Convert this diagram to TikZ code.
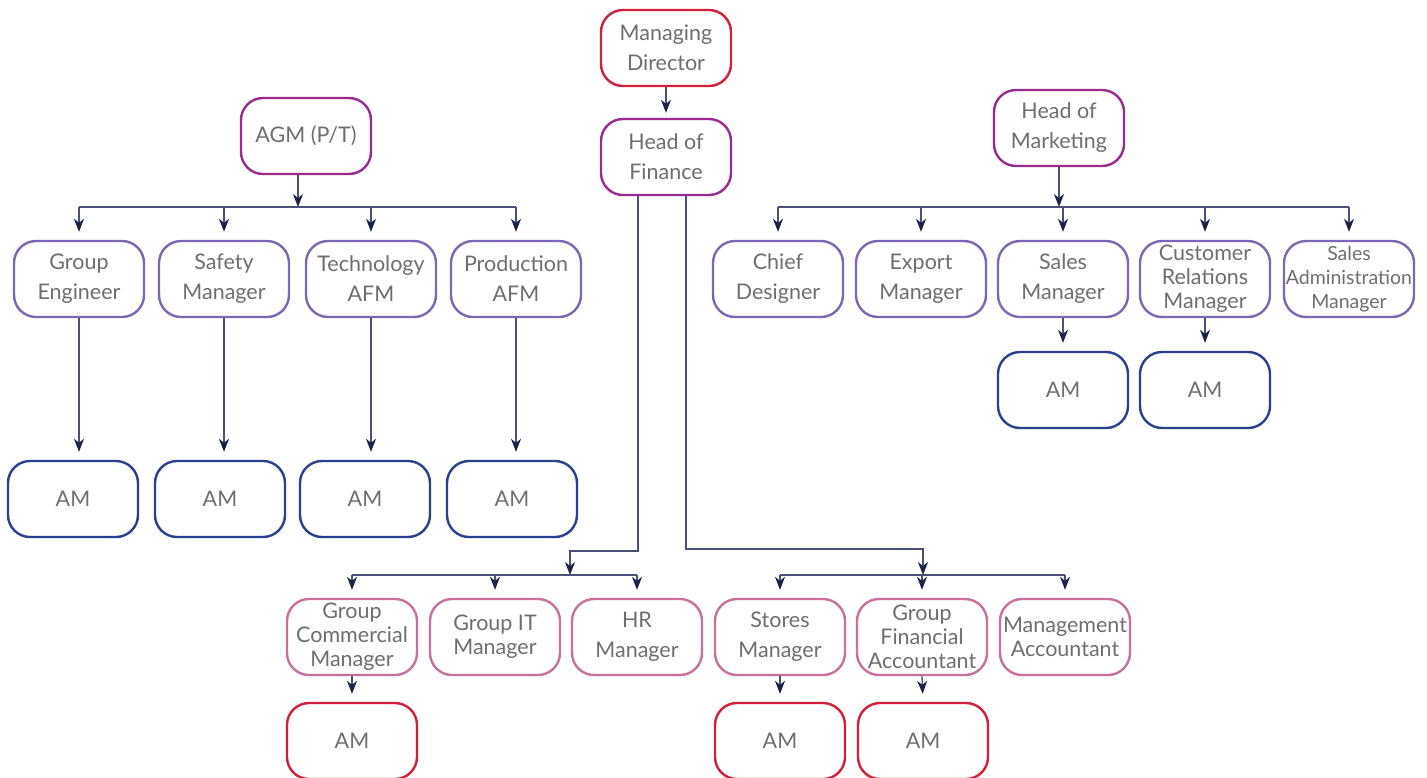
\documentclass[tikz,border=0pt]{standalone}
\usepackage{fontspec}
\setmainfont{Lato}
\usetikzlibrary{arrows.meta}

\definecolor{crimson}{HTML}{D21F3C}
\definecolor{plum}{HTML}{9A2A8E}
\definecolor{lavender}{HTML}{7B67B3}
\definecolor{navybox}{HTML}{2A3F8E}
\definecolor{rosebox}{HTML}{C9719C}
\definecolor{wire}{HTML}{4A5078}
\definecolor{tipcol}{HTML}{1B2448}
\definecolor{txt}{HTML}{6E6E70}

\tikzset{
  card/.style={draw, rounded corners=22pt, line width=2.4pt, fill=white,
    minimum width=130pt, minimum height=76pt, inner sep=0pt, align=center,
    text=txt, font=\fontsize{21.5}{30}\selectfont},
  tight/.style={font=\fontsize{21.5}{24}\selectfont},
  squeezed/.style={font=\fontsize{19.5}{24}\selectfont},
  topcard/.style={card, draw=crimson},
  headcard/.style={card, draw=plum},
  mgrcard/.style={card, draw=lavender},
  amcard/.style={card, draw=navybox},
  staffcard/.style={card, draw=rosebox},
  amred/.style={card, draw=crimson},
  wireline/.style={draw=wire, line width=1.3pt},
  arr/.style={wireline, -{Stealth[length=13pt,width=10pt,inset=4pt,color=tipcol]}},
  gapped/.style={arr, shorten >=8pt},
}

\begin{document}
\begin{tikzpicture}[x=1pt,y=-1pt]
\useasboundingbox (0,0) rectangle (1427,777);

% top of the tree
\node[topcard]  (md)  at (666,48)  {Managing\\Director};
\node[headcard] (hof) at (666,157) {Head of\\Finance};
\node[headcard] (agm) at (306,136) {AGM (P/T)};
\node[headcard] (hom) at (1059,128) {Head of\\Marketing};

% production branch
\node[mgrcard] (ge) at (79,279)  {Group\\Engineer};
\node[mgrcard] (sm) at (224,279) {Safety\\Manager};
\node[mgrcard] (ta) at (371,279) {Technology\\AFM};
\node[mgrcard] (pa) at (516,279) {Production\\AFM};
\node[amcard] (am1) at (73,499)  {AM};
\node[amcard] (am2) at (220,499) {AM};
\node[amcard] (am3) at (365,499) {AM};
\node[amcard] (am4) at (512,499) {AM};

% marketing branch
\node[mgrcard] (cd)  at (778,279)  {Chief\\Designer};
\node[mgrcard] (em)  at (921,279)  {Export\\Manager};
\node[mgrcard] (slm) at (1063,279) {Sales\\Manager};
\node[mgrcard,tight] (crm) at (1205,279) {Customer\\Relations\\Manager};
\node[mgrcard,squeezed] (sam) at (1349,279) {Sales\\Administration\\Manager};
\node[amcard] (am5) at (1063,390) {AM};
\node[amcard] (am6) at (1205,390) {AM};

% finance branch
\node[staffcard,tight] (gcm) at (352,637) {Group\\Commercial\\Manager};
\node[staffcard,tight] (git) at (495,637) {Group IT\\Manager};
\node[staffcard] (hr)  at (637,637) {HR\\Manager};
\node[staffcard] (stm) at (780,637) {Stores\\Manager};
\node[staffcard,tight] (gfa) at (922,637) {Group\\Financial\\Accountant};
\node[staffcard,tight] (mga) at (1065,637) {Management\\Accountant};
\node[amred] (am7) at (352,741) {AM};
\node[amred] (am8) at (780,741) {AM};
\node[amred] (am9) at (923,741) {AM};

% bus points
\coordinate (lbus) at (298,207);
\coordinate (rbus) at (1059,207);
\coordinate (fbusl) at (570,575);
\coordinate (fbusr) at (923,575);
\coordinate (fl) at (638,551);
\coordinate (fr) at (686,549);

% managing director to finance
\draw[arr, shorten >=5pt] (md.south) -- (hof.north);

% production branch
\draw[arr] (agm.south -| lbus) -- (lbus);
\draw[wireline] (ge.north |- lbus) -- (pa.north |- lbus);
\foreach \c in {ge,sm,ta,pa} \draw[gapped] (\c.north |- lbus) -- (\c.north);
\draw[gapped] (ge.south) -- (ge.south |- am1.north);
\draw[gapped] (sm.south) -- (sm.south |- am2.north);
\draw[gapped] (ta.south) -- (ta.south |- am3.north);
\draw[gapped] (pa.south) -- (pa.south |- am4.north);

% marketing branch
\draw[arr] (hom.south) -- (rbus);
\draw[wireline] (cd.north |- rbus) -- (sam.north |- rbus);
\foreach \c in {cd,em,slm,crm,sam} \draw[gapped] (\c.north |- rbus) -- (\c.north);
\draw[gapped] (slm.south) -- (am5.north);
\draw[gapped] (crm.south) -- (am6.north);

% finance branch, left group
\draw[arr] (hof.south -| fl) -- (fl) -| (fbusl);
\draw[wireline] (gcm.north |- fbusl) -- (hr.north |- fbusl);
\foreach \c in {gcm,git,hr} \draw[gapped] (\c.north |- fbusl) -- (\c.north);
\draw[gapped] (gcm.south) -- (am7.north);

% finance branch, right group
\draw[arr] (hof.south -| fr) -- (fr) -| (fbusr);
\draw[wireline] (stm.north |- fbusr) -- (mga.north |- fbusr);
\foreach \c in {stm,gfa,mga} \draw[gapped] (\c.north |- fbusr) -- (\c.north);
\draw[gapped] (stm.south) -- (am8.north);
\draw[gapped] (gfa.south) -- (am9.north);
\end{tikzpicture}
\end{document}
